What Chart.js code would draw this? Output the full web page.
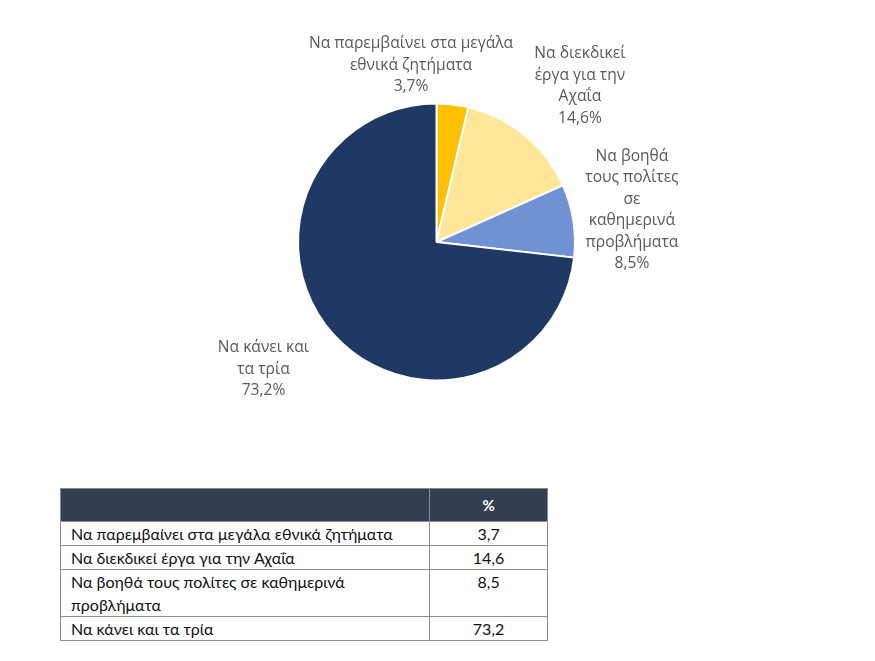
<!DOCTYPE html>
<html>
<head>
<meta charset="utf-8">
<script src="https://cdn.jsdelivr.net/npm/chart.js@4/dist/chart.umd.min.js"></script>
<style>
  html, body { margin: 0; padding: 0; background: #ffffff; }
  body { width: 875px; height: 661px; position: relative; overflow: hidden; }
  #chartWrap { position: absolute; left: 0; top: 0; width: 875px; height: 470px; }
  table { position: absolute; left: 60px; top: 488px; width: 488px; border-collapse: collapse;
          font-family: Lato, "Liberation Sans", sans-serif; font-size: 16px; color: #111; }
  td, th { border: 1px solid #8c8c8c; padding: 0 10px; line-height: 23px; vertical-align: top; }
  th { background: #333f50; color: #fff; height: 32px; vertical-align: middle; font-weight: bold; font-size: 15px; border-color: #8c8c8c; }
  td.v { text-align: center; }
</style>
</head>
<body>
<div id="chartWrap"><canvas id="c"></canvas></div>
<table id="tbl"></table>
<script>
const categories = [
  "Να παρεμβαίνει στα μεγάλα εθνικά ζητήματα",
  "Να διεκδικεί έργα για την Αχαΐα",
  "Να βοηθά τους πολίτες σε καθημερινά προβλήματα",
  "Να κάνει και τα τρία"
];
const values = [3.7, 14.6, 8.5, 73.2];
const chartLabelLines = [
  ["Να παρεμβαίνει στα μεγάλα", "εθνικά ζητήματα"],
  ["Να διεκδικεί", "έργα για την", "Αχαΐα"],
  ["Να βοηθά", "τους πολίτες", "σε", "καθημερινά", "προβλήματα"],
  ["Να κάνει και", "τα τρία"]
];
const tableLabelLines = [
  ["Να παρεμβαίνει στα μεγάλα εθνικά ζητήματα"],
  ["Να διεκδικεί έργα για την Αχαΐα"],
  ["Να βοηθά τους πολίτες σε καθημερινά", "προβλήματα"],
  ["Να κάνει και τα τρία"]
];
const tableHeader = ["", "%"];

const colors = ["#ffc000", "#ffe699", "#7092d4", "#1f3864"];
// label placement (style): polar angle (deg, clockwise from top) and distance factor of radius
const labelPolar = [[-8.2, 1.29], [42.6, 1.53], [80.7, 1.43], [233.7, 1.55]];
const lineH = 21.5;

function fmt(v) { return v.toFixed(1).replace('.', ',') + '%'; }

const outLabels = {
  id: 'outLabels',
  afterDatasetsDraw(chart) {
    const ctx = chart.ctx;
    const meta = chart.getDatasetMeta(0);
    const arc0 = meta.data[0];
    const cx = arc0.x, cy = arc0.y, r = arc0.outerRadius;
    ctx.save();
    ctx.font = '15.6px "Open Sans", "Noto Sans", sans-serif';
    ctx.fillStyle = '#595959';
    ctx.textAlign = 'center';
    ctx.textBaseline = 'middle';
    chartLabelLines.forEach((lines, i) => {
      const all = lines.concat([fmt(values[i])]);
      const a = labelPolar[i][0] * Math.PI / 180;
      const d = labelPolar[i][1] * r;
      const x = cx + Math.sin(a) * d;
      const y = cy - Math.cos(a) * d;
      const startY = y - (all.length - 1) * lineH / 2;
      all.forEach((t, k) => ctx.fillText(t, x, startY + k * lineH));
    });
    ctx.restore();
  }
};

new Chart(document.getElementById('c'), {
  type: 'pie',
  data: {
    labels: categories,
    datasets: [{
      data: values,
      backgroundColor: colors,
      borderColor: '#ffffff',
      borderWidth: 2
    }]
  },
  options: {
    responsive: true,
    maintainAspectRatio: false,
    animation: false,
    layout: { padding: { top: 102.5, bottom: 88.5, left: 297, right: 299 } },
    plugins: { legend: { display: false }, tooltip: { enabled: false } }
  },
  plugins: [outLabels]
});

// table
const tbl = document.getElementById('tbl');
let html = '<colgroup><col style="width:370px"><col style="width:118px"></colgroup>';
html += '<tr><th>' + tableHeader[0] + '</th><th>' + tableHeader[1] + '</th></tr>';
tableLabelLines.forEach((lines, i) => {
  html += '<tr><td>' + lines.join('<br>') + '</td><td class="v">' + values[i].toFixed(1).replace('.', ',') + '</td></tr>';
});
tbl.innerHTML = html;
</script>
</body>
</html>
